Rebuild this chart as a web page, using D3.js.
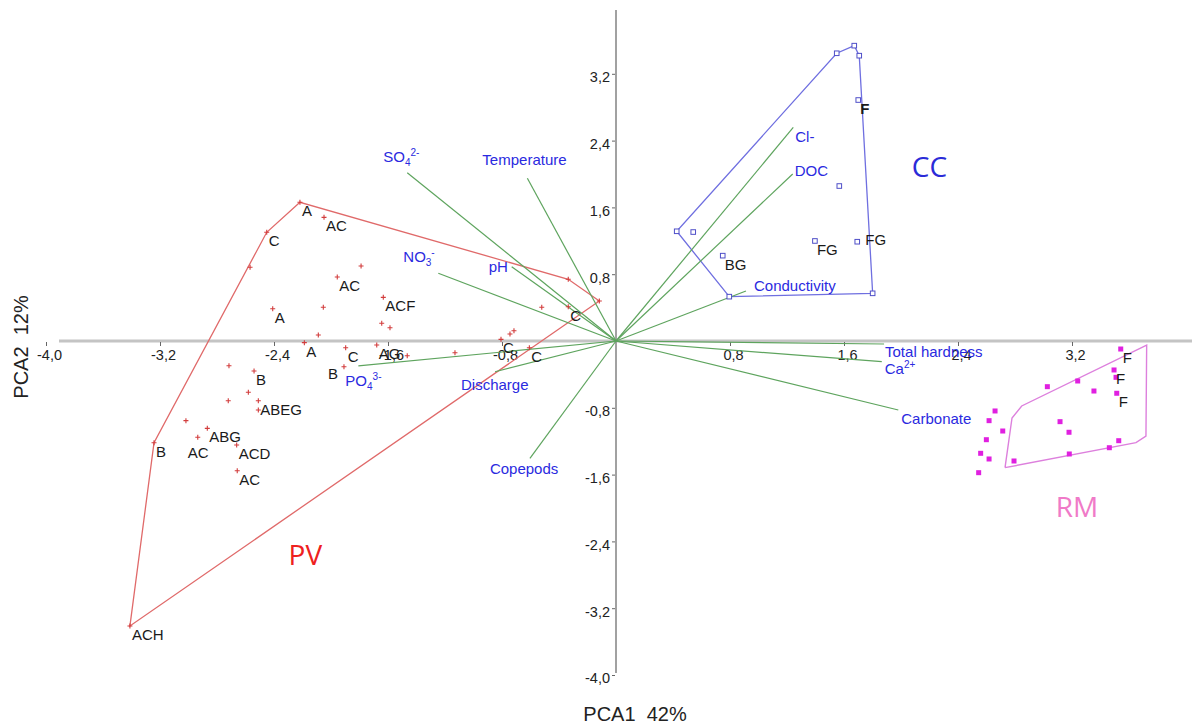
<!DOCTYPE html>
<html>
<head>
<meta charset="utf-8">
<script src="https://cdn.jsdelivr.net/npm/d3@7/dist/d3.min.js"></script>
<style>
  html, body { margin: 0; padding: 0; background: #fff; }
  svg { display: block; font-family: "Liberation Sans", Arial, sans-serif; }
</style>
</head>
<body>
<svg id="chart" width="1195" height="724"></svg>
<script>
// ---- PCA scores: PV sites (red crosses) ----
const pvPCA1 = [-2.218, -2.049, -2.451, -2.568, -1.789, -1.956, -1.633, -2.054, -2.409, -1.644,
                -1.586, -2.089, -2.187, -1.897, -1.679, -1.465, -1.909, -2.716, -2.540, -2.580,
                -2.721, -2.510, -2.510, -3.018, -2.868, -2.935, -2.662, -3.242, -2.658, -3.411,
                -1.130, -0.807, -0.744, -0.716, -0.608, -0.521, -0.335, -0.117, -0.335];
const pvPCA2 = [ 1.661,  1.481,  1.302,  0.883,  0.898,  0.766,  0.523,  0.404,  0.387,  0.212,
                 0.159,  0.072, -0.020, -0.080, -0.048, -0.176, -0.308, -0.296, -0.359, -0.614,
                -0.715, -0.715, -0.826, -0.954, -1.046, -1.153, -1.246, -1.218, -1.553, -3.413,
                -0.140,  0.020,  0.084,  0.123, -0.080,  0.404,  0.739,  0.479,  0.411];
const pvTags   = ["A", "AC", "C", "", "", "AC", "ACF", "", "A", "",
                  "", "", "A", "C", "AG", "", "B", "", "B", "",
                  "", "ABEG", "", "", "ABG", "AC", "ACD", "B", "AC", "ACH",
                  "", "C", "", "", "C", "", "", "", "C"];

// ---- PCA scores: CC sites (open blue squares) ----
const ccPCA1 = [1.549, 1.672, 1.707, 1.700, 1.567, 0.426, 0.542, 0.749, 1.396, 1.693, 0.795, 1.801];
const ccPCA2 = [3.446, 3.537, 3.417, 2.886, 1.856, 1.314, 1.305, 1.022, 1.198, 1.189, 0.531, 0.571];
const ccTags = ["", "", "", "F", "", "", "", "BG", "FG", "FG", "", ""];

// ---- PCA scores: RM sites (filled magenta squares) ----
const rmPCA1 = [3.542, 3.495, 3.509, 3.514, 3.027, 3.240, 3.354, 2.660, 2.618, 2.714,
                3.116, 3.179, 2.599, 2.559, 2.618, 2.545, 2.793, 3.181, 3.462, 3.528];
const rmPCA2 = [-0.096, -0.347, -0.435, -0.626, -0.547, -0.479, -0.599, -0.838, -0.954, -1.078,
                -0.966, -1.093, -1.182, -1.345, -1.413, -1.577, -1.437, -1.353, -1.278, -1.194];
const rmTags = ["F", "F", "", "F", "", "", "", "", "", "",
                "", "", "", "", "", "", "", "", "", ""];

// outline drawn around the RM group
const rmOutlinePCA1 = [2.730, 2.779, 2.847, 3.724, 3.719, 3.649];
const rmOutlinePCA2 = [-1.517, -0.922, -0.778, -0.048, -1.138, -1.218];

// ---- variable loadings (biplot vectors) ----
const varNames = ["SO4", "Temperature", "NO3", "pH", "PO4", "Discharge", "Copepods",
                  "Cl-", "DOC", "Conductivity", "Total hardness", "Ca", "Carbonate"];
const varPCA1 = [-1.465, -0.622, -1.247, -0.732, -1.808, -0.849, -0.604,
                  1.244,  1.240,  0.912,  1.881,  1.865,  1.981];
const varPCA2 = [ 2.016,  1.949,  0.811,  0.890, -0.299, -0.368, -1.405,
                  2.559,  2.000,  0.599, -0.036, -0.248, -0.826];

// ---- axis ticks ----
const xTicks = [-4.0, -3.2, -2.4, -1.6, -0.8, 0.8, 1.6, 2.4, 3.2];
const yTicks = [3.2, 2.4, 1.6, 0.8, -0.8, -1.6, -2.4, -3.2, -4.0];
const xTitle = "PCA1  42%";
const yTitle = "PCA2  12%";

// ================= drawing =================
const svg = d3.select("#chart");
const x = d3.scaleLinear().domain([-4, 4]).range([46, 1186]);
const y = d3.scaleLinear().domain([-4, 4]).range([675, 7]);
const fmt = v => d3.format(".1f")(v).replace(".", ",").replace("−", "-");

const zip = (g, a, b, t) => a.map((v, i) => ({ g, i, x: v, y: b[i], tag: t[i] }));
const pv = zip("pv", pvPCA1, pvPCA2, pvTags);
const cc = zip("cc", ccPCA1, ccPCA2, ccTags);
const rm = zip("rm", rmPCA1, rmPCA2, rmTags);

// axes lines
svg.append("line")
  .attr("x1", 59).attr("x2", 1192)
  .attr("y1", y(0)).attr("y2", y(0))
  .attr("stroke", "#c4c4c4").attr("stroke-width", 3);
svg.append("line")
  .attr("x1", x(0)).attr("x2", x(0))
  .attr("y1", 10).attr("y2", y(-4) - 2)
  .attr("stroke", "#8a8a8a").attr("stroke-width", 1.6);

// tick marks and labels
const xAxis = d3.axisBottom(x).tickValues(xTicks).tickFormat(fmt).tickSize(4).tickPadding(4);
const gx = svg.append("g").attr("transform", `translate(0,${y(0) + 1})`).call(xAxis);
gx.select(".domain").remove();
gx.selectAll(".tick line").attr("stroke", "#666");
gx.selectAll(".tick text").attr("font-size", 14.5).attr("fill", "#222")
  .attr("font-family", "Liberation Sans, Arial, sans-serif").attr("dx", 3);

const yAxis = d3.axisLeft(y).tickValues(yTicks).tickFormat(fmt).tickSize(3).tickPadding(2);
const gy = svg.append("g").attr("transform", `translate(${x(0) - 1},0)`).call(yAxis);
gy.select(".domain").remove();
gy.selectAll(".tick line").attr("stroke", "#666");
gy.selectAll(".tick text").attr("font-size", 14.5).attr("fill", "#222")
  .attr("font-family", "Liberation Sans, Arial, sans-serif").attr("dy", "0.55em");

// axis titles
svg.append("text")
  .attr("x", 635).attr("y", 721)
  .attr("text-anchor", "middle").attr("font-size", 20).attr("fill", "#222")
  .style("white-space", "pre").text(xTitle);
svg.append("text")
  .attr("transform", "translate(28,347) rotate(-90)")
  .attr("text-anchor", "middle").attr("font-size", 20).attr("fill", "#222")
  .style("white-space", "pre").text(yTitle);

// group hulls
const line = d3.line().x(d => x(d[0])).y(d => y(d[1]));
const hullOf = pts => {
  const h = d3.polygonHull(pts.map(p => [p.x, p.y]));
  return h.concat([h[0]]);
};
svg.append("path").attr("d", line(hullOf(pv)))
  .attr("fill", "none").attr("stroke", "#e06a6a").attr("stroke-width", 1.3);
svg.append("path").attr("d", line(hullOf(cc)))
  .attr("fill", "none").attr("stroke", "#6f6fe0").attr("stroke-width", 1.3);
const rmOutline = rmOutlinePCA1.map((v, i) => [v, rmOutlinePCA2[i]]);
svg.append("path").attr("d", line(rmOutline.concat([rmOutline[0]])))
  .attr("fill", "none").attr("stroke", "#dd80dd").attr("stroke-width", 1.4);

// loading vectors
const vars = varNames.map((n, i) => ({ name: n, x: varPCA1[i], y: varPCA2[i] }));
svg.append("g").selectAll("line").data(vars).join("line")
  .attr("x1", x(0)).attr("y1", y(0))
  .attr("x2", d => x(d.x)).attr("y2", d => y(d.y))
  .attr("stroke", "#5ea45e").attr("stroke-width", 1.2);

// vector labels: [dx, dy] from the vector tip (text starts there)
const tipNudge = {
  "SO4": [-24, -11], "Temperature": [-45, -13], "NO3": [-35, -11], "pH": [-23, 5],
  "PO4": [-13, 20], "Discharge": [-34, 18], "Copepods": [-40, 16], "Cl-": [2, 15],
  "DOC": [2, 2], "Conductivity": [8, 0], "Total hardness": [1, 13], "Ca": [3, 12],
  "Carbonate": [3, 14]
};
const chem = {
  "SO4": ["SO", "4", "2-"], "NO3": ["NO", "3", "-"], "PO4": ["PO", "4", "3-"], "Ca": ["Ca", "", "2+"]
};
const vl = svg.append("g").attr("font-size", 15).attr("fill", "#2a2ae0");
vars.forEach(d => {
  const [dx, dy] = tipNudge[d.name];
  const t = vl.append("text").attr("x", x(d.x) + dx).attr("y", y(d.y) + dy);
  const c = chem[d.name];
  if (c) {
    t.append("tspan").text(c[0]);
    if (c[1]) t.append("tspan").attr("font-size", 10).attr("dy", 4).text(c[1]);
    t.append("tspan").attr("font-size", 10).attr("dy", c[1] ? -10 : -6).text(c[2]);
  } else {
    t.text(d.name);
  }
});

// markers
const gpv = svg.append("g");
gpv.selectAll("path").data(pv).join("path")
  .attr("d", d => `M${x(d.x) - 2.5},${y(d.y)}H${x(d.x) + 2.5}M${x(d.x)},${y(d.y) - 2.5}V${y(d.y) + 2.5}`)
  .attr("stroke", "#d23c3c").attr("stroke-width", 1.1);
svg.append("g").selectAll("rect").data(cc).join("rect")
  .attr("x", d => x(d.x) - 2.3).attr("y", d => y(d.y) - 2.3)
  .attr("width", 4.6).attr("height", 4.6)
  .attr("fill", "#fff").attr("stroke", "#4f4fc8").attr("stroke-width", 1);
svg.append("g").selectAll("rect").data(rm).join("rect")
  .attr("x", d => x(d.x) - 2.5).attr("y", d => y(d.y) - 2.5)
  .attr("width", 5).attr("height", 5)
  .attr("fill", "#e020e0");

// sample labels sit below-right of their marker; a few are moved to stay clear
const tagNudge = { "pv16": [-16, 12], "pv25": [-10, 21], "cc9": [8, 3] };
svg.append("g").attr("font-size", 15).attr("fill", "#1a1a1a")
  .selectAll("text").data(pv.concat(cc, rm).filter(d => d.tag)).join("text")
  .attr("x", d => x(d.x) + (tagNudge[d.g + d.i] || [2, 14])[0])
  .attr("y", d => y(d.y) + (tagNudge[d.g + d.i] || [2, 14])[1])
  .attr("font-weight", d => d.g === "cc" && d.tag === "F" ? "bold" : null)
  .text(d => d.tag);

// group names
const groupNames = [
  { name: "PV", at: [-2.18, -2.68], color: "#ee2020" },
  { name: "CC", at: [2.20, 1.96], color: "#2b2bd8" },
  { name: "RM", at: [3.235, -2.11], color: "#f07ac8" }
];
svg.append("g").selectAll("text").data(groupNames).join("text")
  .attr("x", d => x(d.at[0])).attr("y", d => y(d.at[1]))
  .attr("text-anchor", "middle")
  .attr("font-family", "Open Sans, sans-serif").attr("font-size", 28)
  .attr("fill", d => d.color).text(d => d.name);
</script>
</body>
</html>
